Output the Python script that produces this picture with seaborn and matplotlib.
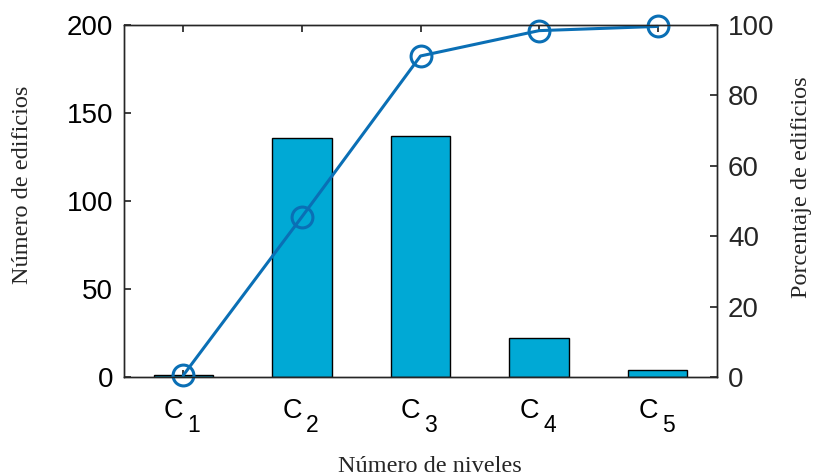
import numpy as np
import pandas as pd
import matplotlib
matplotlib.use("Agg")
import matplotlib.pyplot as plt
import matplotlib.transforms as mtransforms
import seaborn as sns

categories = ["C1", "C2", "C3", "C4", "C5"]
tick_letters = ["C", "C", "C", "C", "C"]
tick_subscripts = ["1", "2", "3", "4", "5"]
counts = [1, 136, 137, 22, 4]
cum_pct = [0.5, 45.5, 91.2, 98.4, 99.6]

sns.set_theme(style="white")
plt.rcParams["font.family"] = ["Liberation Sans", "DejaVu Sans"]

bar_color = "#00A9D5"
line_color = "#0A6FB5"
axis_color = "#262626"
serif = ["Liberation Serif", "DejaVu Serif"]

fig = plt.figure(figsize=(8.14, 4.76), dpi=100)
ax = fig.add_axes([124/814, 1-377/476, (717-124)/814, (377-25)/476])

df = pd.DataFrame({"cat": categories, "count": counts})
sns.barplot(data=df, x="cat", y="count", ax=ax, color=bar_color, saturation=1,
            width=0.5, edgecolor="black", linewidth=1.0)
ax.set_xlim(-0.5, 4.5)
ax.set_ylim(0, 200)
ax.set_yticks([0, 50, 100, 150, 200])
ax.set_xticks(range(len(categories)))
ax.set_xticklabels([""] * len(categories))
ax.tick_params(axis="y", labelsize=20, direction="in", length=5, color=axis_color,
               labelcolor="black", left=True, right=False, pad=8)
ax.tick_params(axis="x", direction="in", length=5, color=axis_color, top=True,
               bottom=True, pad=8)
for s in ax.spines.values():
    s.set_color(axis_color)
    s.set_linewidth(1.0)

# category labels: letter + large subscript (MATLAB style)
base = ax.get_xaxis_transform()
for i, (let, sub) in enumerate(zip(tick_letters, tick_subscripts)):
    t1 = mtransforms.offset_copy(base, fig=fig, x=0, y=-41, units="dots")
    ax.text(i, 0, let, transform=t1, ha="right", va="baseline", fontsize=19.5,
            color="black")
    t2 = mtransforms.offset_copy(base, fig=fig, x=4, y=-55, units="dots")
    ax.text(i, 0, sub, transform=t2, ha="left", va="baseline", fontsize=16.5,
            color="black")

ax.set_xlabel("Número de niveles", family=serif, fontsize=17.5, va="center")
ax.xaxis.set_label_coords(0.516, -0.253)
ax.set_ylabel("Número de edificios", family=serif, fontsize=17.5, va="center")
ax.yaxis.set_label_coords(-0.172, 0.545)

ax2 = ax.twinx()
pdf = pd.DataFrame({"pos": np.arange(len(categories)), "pct": cum_pct})
sns.lineplot(data=pdf, x="pos", y="pct", ax=ax2, color=line_color, linewidth=2.2,
             marker="o", markersize=15, markerfacecolor="none",
             markeredgecolor=line_color, markeredgewidth=2.2, clip_on=False)
ax2.set_ylim(0, 100)
ax2.set_yticks([0, 20, 40, 60, 80, 100])
ax2.tick_params(axis="y", labelsize=20, direction="in", length=5, color=axis_color,
                right=True, pad=8)
ax2.set_xlim(-0.5, 4.5)
ax2.set_ylabel("Porcentaje de edificios", family=serif, fontsize=17.5, va="center")
ax2.yaxis.set_label_coords(1.143, 0.54)
ax2.set_xlabel("")
for s in ax2.spines.values():
    s.set_color(axis_color)
    s.set_linewidth(1.0)

fig.savefig("out.png", dpi=100)
